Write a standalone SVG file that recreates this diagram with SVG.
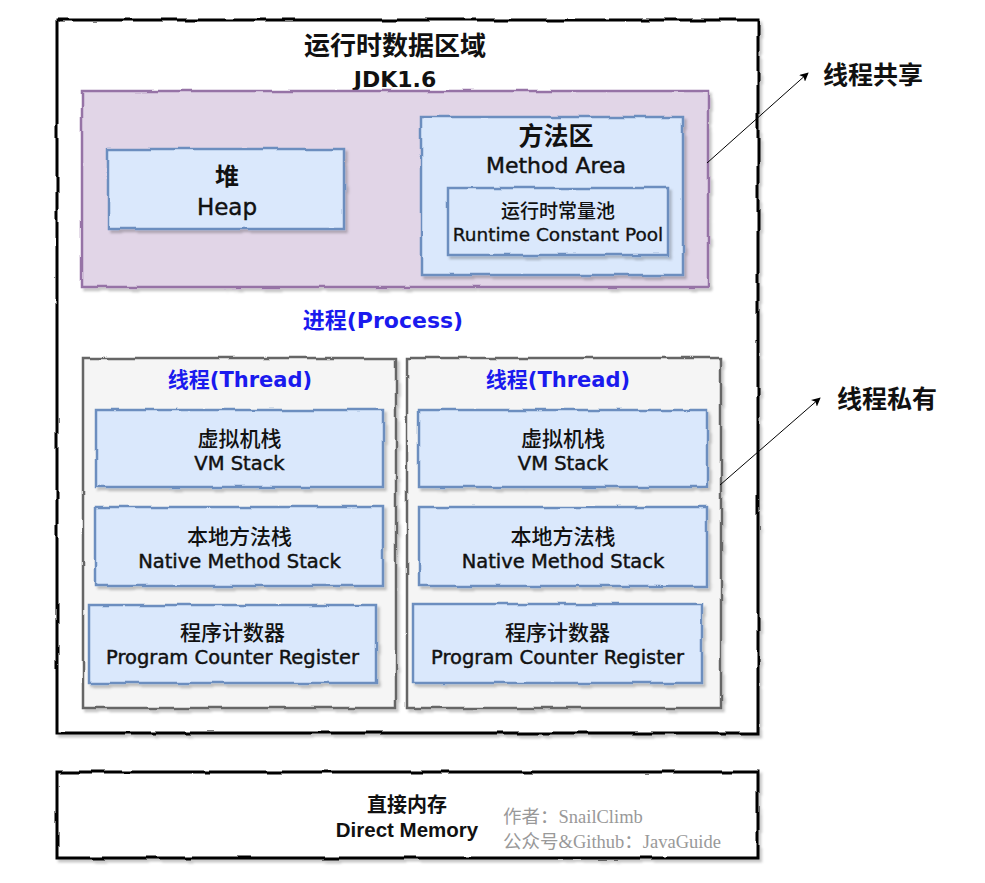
<svg xmlns="http://www.w3.org/2000/svg" width="985" height="883" viewBox="0 0 985 883">
<defs>
<filter id="sk" x="-5%" y="-5%" width="112%" height="115%">
<feTurbulence type="fractalNoise" baseFrequency="0.035" numOctaves="2" seed="4" result="n"/>
<feDisplacementMap in="SourceGraphic" in2="n" scale="3.5" xChannelSelector="R" yChannelSelector="G" result="d"/>
<feDropShadow in="d" dx="2.5" dy="3" stdDeviation="1.2" flood-color="#000" flood-opacity="0.22"/>
</filter>
<marker id="ah" viewBox="0 0 10 10" refX="9" refY="5" markerWidth="9" markerHeight="9" markerUnits="userSpaceOnUse" orient="auto">
<path d="M0,0 L10,5 L0,10 L2.5,5 Z" fill="#000"/>
</marker>
</defs>
<style>
.outer{fill:#fff;stroke:#000;stroke-width:3}
.shared{fill:#e1d5e7;stroke:#9673a6;stroke-width:2.5}
.blue{fill:#dae8fc;stroke:#6c8ebf;stroke-width:2.5}
.thread{fill:#f5f5f5;stroke:#666;stroke-width:2.5}
text{font-family:"DejaVu Sans","Noto Sans CJK SC",sans-serif;text-anchor:middle;fill:#111}
.b{font-weight:bold}
.lbl{font-size:19.5px}
.hv{stroke:#111;stroke-width:0.45px}
.cjk{font-family:"Noto Sans CJK SC",sans-serif}
.m{font-weight:500}
.bluet{fill:#1a1aee;font-weight:bold}
.gray{font-family:"Liberation Serif","Noto Sans CJK SC",serif;fill:#999;font-size:18.5px;text-anchor:start}
.conn{stroke:#000;stroke-width:1;fill:none}
</style>

<g id="runtime-data-area">
<rect class="outer" x="57" y="20" width="701" height="713" filter="url(#sk)"/>
<text class="cjk b" x="395" y="55" font-size="26">运行时数据区域</text>
<text class="b" x="395" y="87" font-size="22">JDK1.6</text>
</g>

<g id="thread-shared">
<rect class="shared" x="82" y="91" width="626" height="196" filter="url(#sk)"/>
</g>

<g id="heap">
<rect class="blue" x="108" y="149" width="236" height="80" filter="url(#sk)"/>
<text class="cjk b" x="227" y="185" font-size="24">堆</text>
<text class="hv" x="227" y="215" font-size="23">Heap</text>
</g>

<g id="method-area">
<rect class="blue" x="421" y="117" width="262" height="158" filter="url(#sk)"/>
<text class="cjk b" x="556" y="145" font-size="25">方法区</text>
<text class="hv" x="556" y="173" font-size="22">Method Area</text>
</g>

<g id="runtime-constant-pool">
<rect class="blue" x="448" y="188" width="220" height="67" filter="url(#sk)"/>
<text class="cjk m" x="558" y="218" font-size="19">运行时常量池</text>
<text class="hv" x="558" y="241" font-size="18.5" style="stroke-width:0.35px">Runtime Constant Pool</text>
</g>

<g id="process-label">
<text class="bluet" x="383" y="328" font-size="22">进程(Process)</text>
</g>

<g id="thread-1">
<rect class="thread" x="83" y="358" width="313" height="350" filter="url(#sk)"/>
<text class="bluet" x="240" y="387" font-size="21">线程(Thread)</text>
</g>
<g id="vm-stack-1">
<rect class="blue" x="96" y="410" width="287" height="77" filter="url(#sk)"/>
<text class="cjk m" x="239.5" y="446" font-size="21">虚拟机栈</text>
<text class="lbl hv" x="239.5" y="470">VM Stack</text>
</g>
<g id="native-stack-1">
<rect class="blue" x="96" y="507" width="287" height="79" filter="url(#sk)"/>
<text class="cjk m" x="239.5" y="544" font-size="21">本地方法栈</text>
<text class="lbl hv" x="239.5" y="568">Native Method Stack</text>
</g>
<g id="pc-register-1">
<rect class="blue" x="89" y="605" width="287" height="78" filter="url(#sk)"/>
<text class="cjk m" x="232.5" y="640" font-size="21">程序计数器</text>
<text class="lbl hv" x="232.5" y="664">Program Counter Register</text>
</g>

<g id="thread-2">
<rect class="thread" x="407" y="358" width="314" height="350" filter="url(#sk)"/>
<text class="bluet" x="558" y="387" font-size="21">线程(Thread)</text>
</g>
<g id="vm-stack-2">
<rect class="blue" x="419" y="410" width="288" height="77" filter="url(#sk)"/>
<text class="cjk m" x="563" y="446" font-size="21">虚拟机栈</text>
<text class="lbl hv" x="563" y="470">VM Stack</text>
</g>
<g id="native-stack-2">
<rect class="blue" x="419" y="507" width="288" height="79" filter="url(#sk)"/>
<text class="cjk m" x="563" y="544" font-size="21">本地方法栈</text>
<text class="lbl hv" x="563" y="568">Native Method Stack</text>
</g>
<g id="pc-register-2">
<rect class="blue" x="413" y="604" width="289" height="79" filter="url(#sk)"/>
<text class="cjk m" x="557.5" y="640" font-size="21">程序计数器</text>
<text class="lbl hv" x="557.5" y="664">Program Counter Register</text>
</g>

<g id="direct-memory">
<rect class="outer" x="57" y="772" width="701" height="86" filter="url(#sk)"/>
<text class="cjk b" x="407" y="812" font-size="20">直接内存</text>
<text class="b" x="407" y="837" font-size="20.5" style="font-family:'Liberation Sans',sans-serif">Direct Memory</text>
<text class="gray" x="503" y="823">作者：SnailClimb</text>
<text class="gray" x="503" y="848">公众号&amp;Github：JavaGuide</text>
</g>

<g id="label-shared">
<text class="cjk b" x="823" y="84" font-size="25" style="text-anchor:start">线程共享</text>
</g>
<g id="label-private">
<text class="cjk b" x="837" y="408" font-size="25" style="text-anchor:start">线程私有</text>
</g>

<g id="connectors">
<line class="conn" x1="707" y1="163" x2="808" y2="73" marker-end="url(#ah)"/>
<line class="conn" x1="720" y1="485" x2="820" y2="398" marker-end="url(#ah)"/>
</g>
</svg>
